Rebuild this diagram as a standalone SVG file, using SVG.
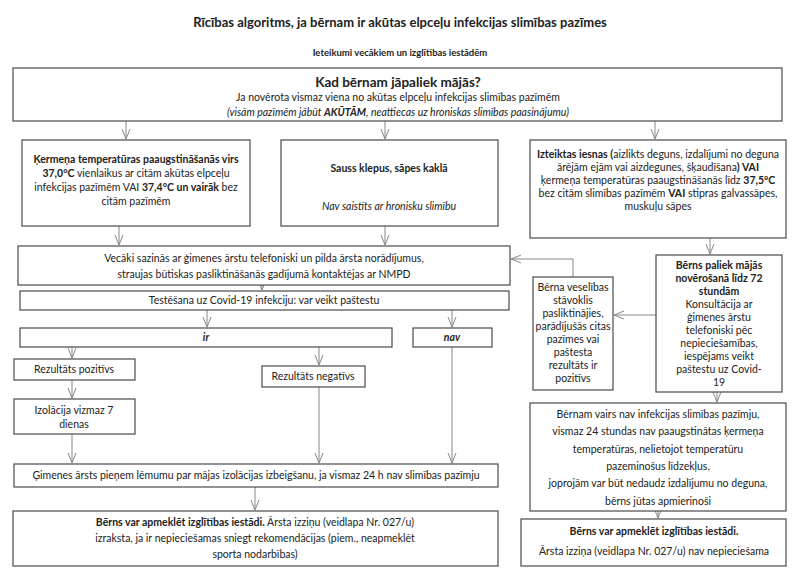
<svg xmlns="http://www.w3.org/2000/svg" width="800" height="581" viewBox="0 0 800 581">
<defs>
<marker id="arr" viewBox="0 0 10 10" refX="10" refY="5" markerWidth="10" markerHeight="10" markerUnits="userSpaceOnUse" orient="auto">
<polyline points="0,1 10,5 0,9" fill="none" stroke="#888" stroke-width="1"/>
</marker>
</defs>
<style>
.box{fill:#fff;stroke:#4a4a4a;stroke-width:1.2}
.t{font-family:Lato,"Open Sans","Liberation Sans",sans-serif;font-size:10.5px;fill:#222;text-anchor:middle}
.b{font-weight:bold}
.i{font-style:italic}
.c line,.c polyline{stroke:#888;stroke-width:1;fill:none;marker-end:url(#arr)}
</style>
<rect x="0" y="0" width="800" height="581" fill="#fff"/>
<text class="t b" x="400" y="27" style="font-size:13px">Rīcības algoritms, ja bērnam ir akūtas elpceļu infekcijas slimības pazīmes</text>
<text class="t b" x="400" y="56" style="font-size:9.5px">Ieteikumi vecākiem un izglītības iestādēm</text>

<g class="c">
<line x1="126" y1="121" x2="126" y2="139"/>
<line x1="385" y1="121" x2="385" y2="139"/>
<line x1="655" y1="121" x2="655" y2="139"/>
<line x1="119" y1="226" x2="119" y2="245"/>
<line x1="385" y1="226" x2="385" y2="245"/>
<polyline points="573,277 573,259 511,259"/>
<line x1="710" y1="238" x2="710" y2="254"/>
<line x1="656" y1="315" x2="614" y2="315"/>
<line x1="262" y1="285" x2="262" y2="290"/>
<line x1="207" y1="310" x2="207" y2="327"/>
<line x1="452" y1="310" x2="452" y2="327"/>
<line x1="72" y1="347" x2="72" y2="358"/>
<line x1="319" y1="347" x2="319" y2="365"/>
<line x1="72" y1="380" x2="72" y2="398"/>
<line x1="72" y1="434" x2="72" y2="463"/>
<line x1="319" y1="387" x2="319" y2="463"/>
<line x1="452" y1="347" x2="452" y2="463"/>
<line x1="255" y1="487" x2="255" y2="510"/>
<line x1="717" y1="392" x2="717" y2="402"/>
<line x1="658" y1="511" x2="658" y2="518"/>
</g>

<g id="top">
<rect class="box" x="13" y="68" width="769" height="53"/>
<text class="t b" x="398" y="87" style="font-size:13.5px">Kad bērnam jāpaliek mājās?</text>
<text class="t" x="398" y="101">Ja novērota vismaz viena no akūtas elpceļu infekcijas slimības pazīmēm</text>
<text class="t i" x="398" y="116">(visām pazīmēm jābūt <tspan class="b">AKŪTĀM</tspan>, neattiecas uz hroniskas slimības paasinājumu)</text>
</g>

<g id="nodeA">
<rect class="box" x="22" y="140" width="228" height="86"/>
<text class="t" x="136" y="163"><tspan class="b">Ķermeņa temperatūras paaugstināšanās virs</tspan></text>
<text class="t" x="136" y="177"><tspan class="b">37,0°C</tspan> vienlaikus ar citām akūtas elpceļu</text>
<text class="t" x="136" y="191">infekcijas pazīmēm VAI <tspan class="b">37,4°C un vairāk</tspan> bez</text>
<text class="t" x="136" y="205">citām pazīmēm</text>
</g>

<g id="nodeB">
<rect class="box" x="281" y="140" width="217" height="86"/>
<text class="t b" x="389" y="172">Sauss klepus, sāpes kaklā</text>
<text class="t i" x="389" y="210">Nav saistīts ar hronisku slimību</text>
</g>

<g id="nodeC">
<rect class="box" x="530" y="140" width="256" height="98"/>
<text class="t" x="658" y="158"><tspan class="b">Izteiktas iesnas (</tspan>aizlikts deguns, izdalījumi no deguna</text>
<text class="t" x="658" y="171">ārējām ejām vai aizdegunes, šķaudīšana<tspan class="b">) VAI</tspan></text>
<text class="t" x="658" y="184">ķermeņa temperatūras paaugstināšanās līdz <tspan class="b">37,5ºC</tspan></text>
<text class="t" x="658" y="197">bez citām slimības pazīmēm <tspan class="b">VAI</tspan> stipras galvassāpes,</text>
<text class="t" x="658" y="210">muskuļu sāpes</text>
</g>

<g id="nodeD">
<rect class="box" x="18" y="246" width="492" height="39"/>
<text class="t" x="264" y="262">Vecāki sazinās ar ģimenes ārstu telefoniski un pilda ārsta norādījumus,</text>
<text class="t" x="264" y="278">straujas būtiskas pasliktināšanās gadījumā kontaktējas ar NMPD</text>
</g>

<g id="nodeE">
<rect class="box" x="20" y="291" width="489" height="19"/>
<text class="t" x="264" y="304">Testēšana uz Covid-19 infekciju: var veikt paštestu</text>
</g>

<g id="nodeIr">
<rect class="box" x="20" y="328" width="372" height="19"/>
<text class="t b i" x="206" y="341">ir</text>
</g>

<g id="nodeNav">
<rect class="box" x="413" y="328" width="79" height="19"/>
<text class="t b i" x="452" y="341">nav</text>
</g>

<g id="nodePoz">
<rect class="box" x="14" y="359" width="121" height="21"/>
<text class="t" x="74" y="373">Rezultāts pozitīvs</text>
</g>

<g id="nodeNeg">
<rect class="box" x="262" y="366" width="103" height="21"/>
<text class="t" x="313" y="380">Rezultāts negatīvs</text>
</g>

<g id="nodeIzol">
<rect class="box" x="14" y="399" width="121" height="35"/>
<text class="t" x="74" y="414">Izolācija vizmaz 7</text>
<text class="t" x="74" y="428">dienas</text>
</g>

<g id="nodeGim">
<rect class="box" x="14" y="464" width="484" height="23"/>
<text class="t" x="256" y="479">Ģimenes ārsts pieņem lēmumu par mājas izolācijas izbeigšanu, ja vismaz 24 h nav slimības pazīmju</text>
</g>

<g id="nodeFinalL">
<rect class="box" x="13" y="511" width="485" height="55"/>
<text class="t" x="255" y="526"><tspan class="b">Bērns var apmeklēt izglītības iestādi.</tspan> Ārsta izziņu (veidlapa Nr. 027/u)</text>
<text class="t" x="255" y="542">izraksta, ja ir nepieciešamas sniegt rekomendācijas (piem., neapmeklēt</text>
<text class="t" x="255" y="558">sporta nodarbības)</text>
</g>

<g id="nodeF">
<rect class="box" x="656" y="255" width="126" height="137"/>
<text class="t b" x="719" y="269">Bērns paliek mājās</text>
<text class="t b" x="719" y="282">novērošanā līdz 72</text>
<text class="t b" x="719" y="295">stundām</text>
<text class="t" x="719" y="308">Konsultācija ar</text>
<text class="t" x="719" y="321">ģimenes ārstu</text>
<text class="t" x="719" y="334">telefoniski pēc</text>
<text class="t" x="719" y="347">nepieciešamības,</text>
<text class="t" x="719" y="360">iespējams veikt</text>
<text class="t" x="719" y="373">paštestu uz Covid-</text>
<text class="t" x="719" y="386">19</text>
</g>

<g id="nodeG">
<rect class="box" x="533" y="277" width="80" height="113"/>
<text class="t" x="573" y="291">Bērna veselības</text>
<text class="t" x="573" y="304">stāvoklis</text>
<text class="t" x="573" y="317">pasliktinājies,</text>
<text class="t" x="573" y="330">parādījušās citas</text>
<text class="t" x="573" y="343">pazīmes vai</text>
<text class="t" x="573" y="356">paštesta</text>
<text class="t" x="573" y="369">rezultāts ir</text>
<text class="t" x="573" y="382">pozitīvs</text>
</g>

<g id="nodeH">
<rect class="box" x="530" y="403" width="256" height="108"/>
<text class="t" x="658" y="418">Bērnam vairs nav infekcijas slimības pazīmju,</text>
<text class="t" x="658" y="435">vismaz 24 stundas nav paaugstinātas ķermeņa</text>
<text class="t" x="658" y="453">temperatūras, nelietojot temperatūru</text>
<text class="t" x="658" y="470">pazeminošus līdzekļus,</text>
<text class="t" x="658" y="487">joprojām var būt nedaudz izdalījumu no deguna,</text>
<text class="t" x="658" y="505">bērns jūtas apmierinoši</text>
</g>

<g id="nodeI">
<rect class="box" x="521" y="519" width="265" height="47"/>
<text class="t b" x="654" y="535">Bērns var apmeklēt izglītības iestādi.</text>
<text class="t" x="654" y="555">Ārsta izziņa (veidlapa Nr. 027/u) nav nepieciešama</text>
</g>
</svg>
